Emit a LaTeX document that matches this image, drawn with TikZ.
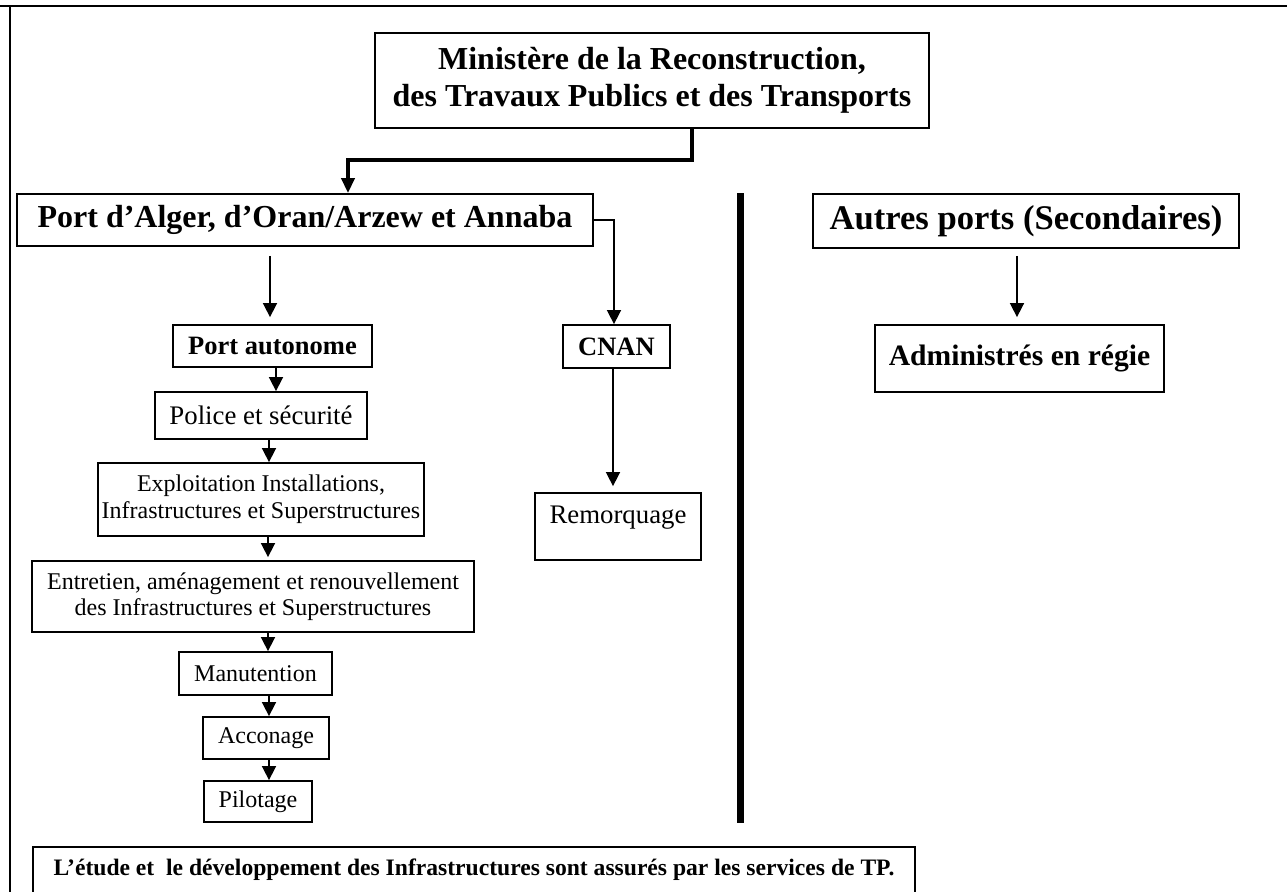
\documentclass[tikz,border=0pt]{standalone}
\usepackage{fontspec}
\setmainfont{Liberation Serif}
\usetikzlibrary{arrows.meta}
\newcommand\fbig{\fontsize{16}{18.5}\selectfont\bfseries}
\newcommand\fmid{\fontsize{13.25}{15}\selectfont\bfseries}
\newcommand\freg{\fontsize{12}{13.3}\selectfont}
\tikzset{
  box/.style={draw, line width=0.9pt, inner sep=0pt, align=center},
  arr/.style={-{Triangle[length=7pt,width=7pt]}, line width=0.8pt},
  bigarr/.style={-{Triangle[length=7.5pt,width=6.5pt]}, line width=2pt}
}

\begin{document}
\begin{tikzpicture}[x=0.5pt, y=-0.5pt]
\useasboundingbox (0,0) rectangle (1287,891);
\draw[line width=1pt] (0,6) -- (1287,6);
\draw[line width=1pt] (10,6) -- (10,900);

\node[box, minimum width=277pt, minimum height=47.5pt, font=\fbig] (mte) at (652,80.5) {Ministère de la Reconstruction,\\des Travaux Publics et des Transports};
\node[box, minimum width=288pt, minimum height=26pt, font=\fbig] (port) at (305,220) {Port d’Alger, d’Oran/Arzew et Annaba};
\node[box, minimum width=213pt, minimum height=27pt, font=\fontsize{17.3}{20}\selectfont\bfseries] (autres) at (1026,221) {Autres ports (Secondaires)};
\node[box, minimum width=99.5pt, minimum height=21pt, font=\fmid] (auto) at (272.5,346) {Port autonome};
\node[box, minimum width=53.5pt, minimum height=21.5pt, font=\fmid] (cnan) at (616.5,346.5) {CNAN};
\node[box, minimum width=144.5pt, minimum height=33.5pt, font=\fontsize{14.8}{17}\selectfont\bfseries] (admin) at (1019.5,358.5) {Administrés en régie};
\node[box, minimum width=106pt, minimum height=23.5pt, font=\fontsize{13.4}{15}\selectfont] (police) at (261,415.5) {Police et sécurité};
\node[box, minimum width=163pt, minimum height=36.5pt, font=\freg] (exploit) at (261,499.5) {Exploitation Installations,\\Infrastructures et Superstructures};
\node[box, minimum width=221pt, minimum height=35.5pt, font=\freg] (entretien) at (253,596.5) {Entretien, aménagement et renouvellement\\des Infrastructures et Superstructures};
\node[box, minimum width=76.5pt, minimum height=21.5pt, font=\freg] (manut) at (255.5,673.5) {Manutention};
\node[box, minimum width=63pt, minimum height=21pt, font=\freg] (accon) at (266,738) {Acconage};
\node[box, minimum width=54pt, minimum height=20.5pt, font=\freg] (pilot) at (258,801.5) {Pilotage};
\node[box, minimum width=83pt, text height=15pt, text depth=18.5pt, font=\fontsize{13.4}{15}\selectfont] (remorq) at (618,526.5) {Remorquage};
\node[box, minimum width=441pt, text height=14pt, text depth=15pt, font=\fontsize{11.8}{14}\selectfont\bfseries] (etude) at (474,876) {L’étude et\ \ le développement des Infrastructures sont assurés par les services de TP.};

\coordinate (bend) at (348,160);
\draw[bigarr] (mte.south -| 692,0) |- (bend) -- (port.north -| bend);
\draw[arr, shorten <=4.5pt, shorten >=3.5pt] (port.south -| 270,0) -- (auto.north -| 270,0);
\draw[arr] (port.east) -| (cnan.north -| 614,0);
\draw[arr, shorten >=3pt] (cnan.south -| 613,0) -- (remorq.north -| 613,0);
\draw[arr, shorten <=3.5pt, shorten >=3.5pt] (autres.south -| 1017,0) -- (admin.north -| 1017,0);
\draw[arr] (auto.south -| 276,0) -- (police.north -| 276,0);
\draw[arr] (police.south -| 269,0) -- (exploit.north -| 269,0);
\draw[arr, shorten >=1.5pt] (exploit.south -| 268,0) -- (entretien.north -| 268,0);
\draw[arr] (entretien.south -| 268,0) -- (manut.north -| 268,0);
\draw[arr] (manut.south -| 269,0) -- (accon.north -| 269,0);
\draw[arr] (accon.south -| 269,0) -- (pilot.north -| 269,0);

\draw[line width=3.5pt] (740,193) -- (740,823);
\end{tikzpicture}
\end{document}
